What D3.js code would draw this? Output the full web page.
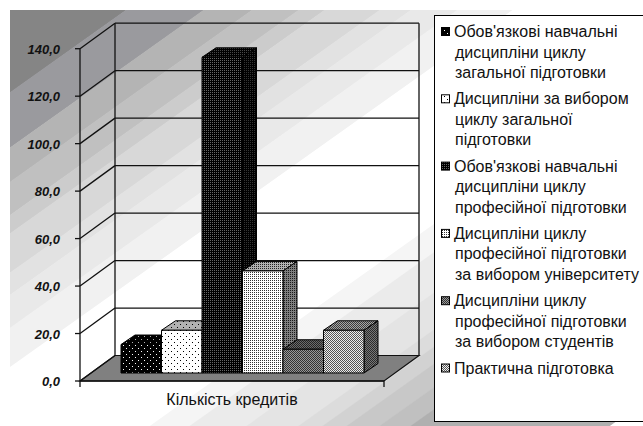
<!DOCTYPE html>
<html>
<head>
<meta charset="utf-8">
<script src="https://cdn.jsdelivr.net/npm/d3@7"></script>
<style>
  html, body { margin:0; padding:0; background:#fff; overflow:hidden; }
  text { font-family:"Liberation Sans", Arial, sans-serif; }
</style>
</head>
<body>
<svg id="chart" width="643" height="426"></svg>
<script>
/* ---------- data ------------------------------------------------ */
const category = "Кількість кредитів";
const seriesNames = [
  ["Обов'язкові навчальні", "дисципліни циклу", "загальної підготовки"],
  ["Дисципліни за вибором", "циклу загальної", "підготовки"],
  ["Обов'язкові навчальні", "дисципліни циклу", "професійної підготовки"],
  ["Дисципліни циклу", "професійної підготовки", "за вибором університету"],
  ["Дисципліни циклу", "професійної підготовки", "за вибором студентів"],
  ["Практична підготовка"]
];
const seriesValues = [12, 18, 133, 43, 10, 18];
const yTicks = [0, 20, 40, 60, 80, 100, 120, 140];

// dither fills: [foreground, background, cell size, checker]
const fills = [
  ["#fff", "#000", 6, false],
  ["#000", "#fff", 6, false],
  ["#666", "#000", 2, false],
  ["#333", "#fff", 2, false],
  ["#333", "#999", 2, true],
  ["#555", "#eee", 2, true]
];
// background: stepped diagonal bands, upper edge and grey of each
const bandEdges = [-400, 81, 126, 154, 181, 196, 228, 246, 273, 305, 434, 457, 490, 520, 534, 548, 567, 585, 700];
const bandGreys = ["#858585","#9a9a9e","#b4b4b4","#c0c0c0","#cccccc","#d8d8d8","#e2e2e2","#e9e9e9","#f1f1f1",
                   "#ffffff","#f5f5f5","#ebebeb","#e4e4e4","#dcdcdc","#d2d2d2","#c8c8c8","#c0c0c0","#b0b0b0"];

/* ---------- layout ---------------------------------------------- */
const svg = d3.select("#chart");
const depth = {x:35, y:-25.5};      // wall depth
const barDepth = {x:14, y:-9.5};    // bar depth
const baseY = 373;                  // front bottom of the bars
const y = d3.scaleLinear().domain([0,140]).range([381,48.7]);
const x0 = 80, x1 = 384;
const xBar = d3.scaleBand().domain(d3.range(seriesValues.length)).range([121,364]);
const h = v => y(0) - y(v);

/* ---------- background bands ------------------------------------ */
const defs = svg.append("defs");
defs.append("clipPath").attr("id","bg-clip")
  .append("rect").attr("x",10).attr("y",10).attr("width",633).attr("height",416);
svg.append("g").attr("clip-path","url(#bg-clip)")
  .append("g").attr("transform","rotate(-35.4)")   // rotated y is distance across the bands
  .selectAll("rect").data(bandGreys).enter().append("rect")
    .attr("x",-500).attr("width",1500)
    .attr("y",(d,i)=>bandEdges[i])
    .attr("height",(d,i)=>bandEdges[i+1]-bandEdges[i]+0.5)
    .attr("fill",d=>d);

/* ---------- dither patterns ------------------------------------- */
const patId = (i,face) => `pat-${i}-${face}`;
const shade = {front:0, top:0.3, side:0.5};
fills.forEach(([fg,bg,s,checker],i) => {
  Object.keys(shade).forEach(face => {
    const p = defs.append("pattern").attr("id",patId(i,face))
      .attr("patternUnits","userSpaceOnUse").attr("width",s).attr("height",s);
    p.append("rect").attr("width",s).attr("height",s).attr("fill",bg);
    p.append("rect").attr("width",1).attr("height",1).attr("fill",fg);
    if (s > 2 || checker) p.append("rect").attr("x",s/2).attr("y",s/2).attr("width",1).attr("height",1).attr("fill",fg);
    if (shade[face]) p.append("rect").attr("width",s).attr("height",s)
      .attr("fill","#000").attr("opacity",shade[face]);
  });
});

/* ---------- floor and walls ------------------------------------- */
const pts = a => a.map(p=>p.join(",")).join(" ");
svg.append("polygon")
  .attr("points",pts([[x0,y(0)],[x0+depth.x,y(0)+depth.y],[x1+depth.x,y(0)+depth.y],[x1,y(0)]]))
  .attr("fill","#808080").attr("stroke","#111").attr("stroke-width",1.2);

const grid = svg.append("g").attr("stroke","#111").attr("stroke-width",1.3).attr("fill","none");
yTicks.forEach(t => {
  if (t > 0) grid.append("line").attr("x1",x0+depth.x).attr("x2",x1+depth.x)
    .attr("y1",y(t)+depth.y).attr("y2",y(t)+depth.y);
  grid.append("line").attr("x1",x0).attr("x2",x0+depth.x)
    .attr("y1",y(t)).attr("y2",y(t)+depth.y);
  grid.append("line").attr("x1",x0-5).attr("x2",x0).attr("y1",y(t)).attr("y2",y(t));
});
grid.append("line").attr("x1",x0+depth.x).attr("x2",x0+depth.x)
  .attr("y1",y(140)+depth.y).attr("y2",y(0)+depth.y);
grid.append("line").attr("x1",x1+depth.x).attr("x2",x1+depth.x)
  .attr("y1",y(140)+depth.y).attr("y2",y(0)+depth.y);
grid.append("line").attr("x1",x0).attr("x2",x0).attr("y1",y(140)).attr("y2",y(0)+6);
grid.append("line").attr("x1",x1).attr("x2",x1).attr("y1",y(0)).attr("y2",y(0)+6);
grid.append("line").attr("x1",x0).attr("x2",x1).attr("y1",y(0)).attr("y2",y(0)).attr("stroke-width",1.5);

/* ---------- bars ------------------------------------------------ */
const bars = svg.append("g").attr("stroke","#000").attr("stroke-width",1).attr("stroke-linejoin","round");
seriesValues.forEach((v,i) => {
  const l = xBar(i), r = l + xBar.bandwidth(), top = baseY - h(v);
  const g = bars.append("g");
  g.append("polygon").attr("fill",`url(#${patId(i,"top")})`)
    .attr("points",pts([[l,top],[l+barDepth.x,top+barDepth.y],[r+barDepth.x,top+barDepth.y],[r,top]]));
  g.append("polygon").attr("fill",`url(#${patId(i,"side")})`)
    .attr("points",pts([[r,top],[r+barDepth.x,top+barDepth.y],[r+barDepth.x,baseY+barDepth.y],[r,baseY]]));
  g.append("rect").attr("fill",`url(#${patId(i,"front")})`)
    .attr("x",l).attr("y",top).attr("width",r-l).attr("height",baseY-top);
});

/* ---------- axis text ------------------------------------------- */
svg.append("g").selectAll("text").data(yTicks).enter().append("text")
  .attr("x",60).attr("y",d=>y(d)+0.5).attr("dy","0.36em")
  .attr("text-anchor","end").attr("font-size",13).attr("font-weight","bold")
  .attr("font-style","italic").attr("fill","#111")
  .text(d=>d3.format(".1f")(d).replace(".",","));
svg.append("text").attr("x",232).attr("y",404.5).attr("text-anchor","middle")
  .attr("font-size",16).attr("fill","#111").text(category);

/* ---------- legend ---------------------------------------------- */
svg.append("rect").attr("x",434.5).attr("y",15.5).attr("width",230).attr("height",406)
  .attr("fill","#fff").attr("stroke","#000");
let ly = 37;
seriesNames.forEach((lines,i) => {
  svg.append("rect").attr("x",441.5).attr("y",ly-9.5).attr("width",8).attr("height",8)
    .attr("fill",`url(#${patId(i,"front")})`).attr("stroke","#000");
  lines.forEach((t,j) => {
    svg.append("text").attr("x",j ? 455 : 454).attr("y",ly+j*20.5)
      .attr("font-size",16).attr("fill","#111").text(t);
  });
  ly += lines.length*20.5 + 5.8;
});
</script>
</body>
</html>
